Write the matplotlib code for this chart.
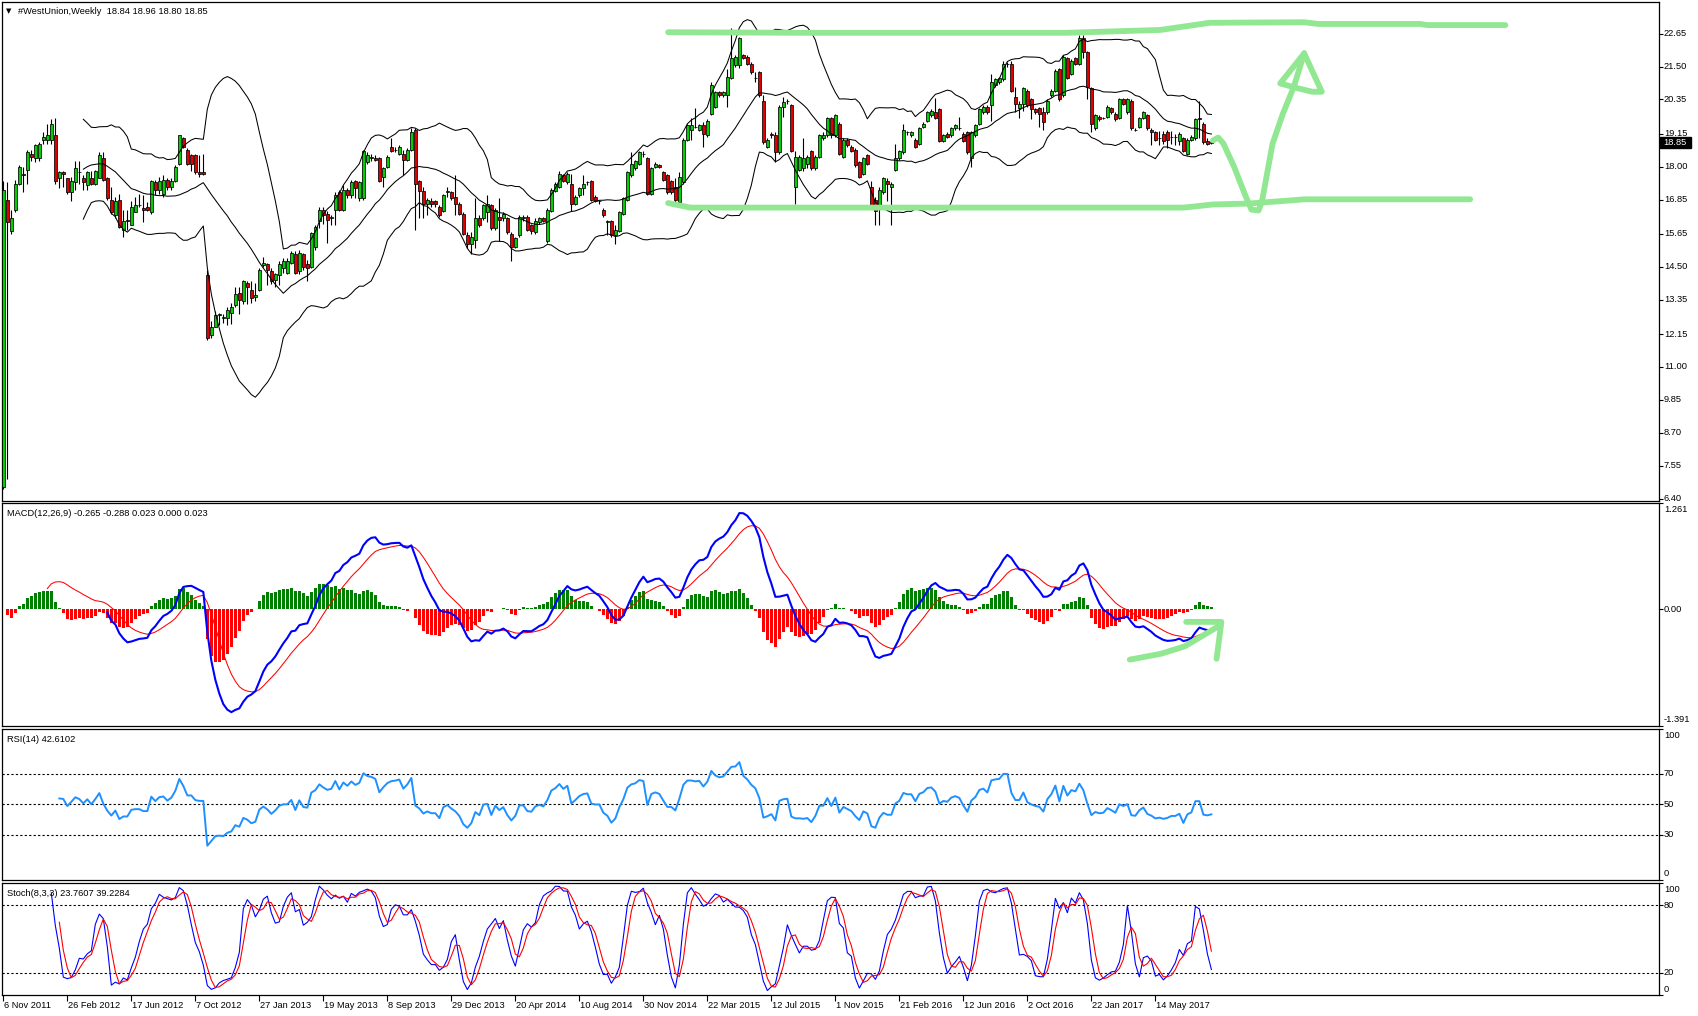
import numpy as np
import matplotlib
matplotlib.use("Agg")
import matplotlib.pyplot as plt

# ---------------- data (weekly OHLC) ----------------
opens = [
 6.80, 16.85, 15.75, 16.50, 17.40, 17.75, 17.90, 18.45, 18.30, 18.30,
 18.95, 18.95, 18.95, 19.10, 17.60, 17.80, 17.60, 17.10, 17.45, 17.80,
 17.60, 17.35, 17.60, 17.40, 17.60, 18.30, 17.60, 16.85, 16.30, 16.85,
 15.80, 16.15, 15.95, 16.40, 16.65, 16.55, 16.60, 16.40, 17.45, 17.20,
 17.05, 17.55, 17.30, 17.50, 18.10, 19.00, 18.60, 18.40, 18.40, 17.80,
 17.80, 14.20, 12.10, 12.40, 12.80, 12.70, 12.70, 12.90, 13.15, 13.60,
 13.30, 13.95, 13.70, 13.45, 13.70, 14.55, 14.60, 14.35, 14.05, 14.20,
 14.45, 14.30, 14.65, 14.95, 14.35, 14.95, 14.60, 14.50, 15.20, 16.10,
 16.50, 16.35, 16.20, 16.50, 17.10, 16.50, 17.20, 17.00, 17.50, 16.90,
 16.90, 18.15, 18.30, 18.30, 18.30, 17.65, 18.00, 18.70, 18.60, 18.45,
 18.45, 18.25, 18.60, 19.30, 17.50, 17.15, 16.70, 16.80, 16.80, 16.60,
 16.45, 17.10, 17.10, 16.95, 16.70, 16.35, 15.60, 15.30, 15.45, 16.20,
 16.20, 16.40, 16.65, 15.85, 16.25, 16.20, 16.20, 15.65, 15.20, 15.60,
 16.20, 16.25, 15.95, 15.70, 16.05, 16.20, 15.40, 16.45, 17.15, 17.30,
 17.70, 17.45, 17.40, 16.70, 17.00, 17.25, 17.45, 17.50, 16.95, 16.80,
 16.50, 16.05, 16.10, 15.60, 15.75, 16.35, 16.85, 17.70, 17.95, 18.10,
 18.45, 18.30, 17.05, 18.00, 18.05, 17.80, 17.70, 17.50, 17.30, 16.75,
 17.45, 18.95, 19.30, 19.40, 19.30, 19.45, 19.10, 19.85, 20.10, 20.60,
 20.50, 20.50, 21.10, 21.55, 21.55, 21.90, 21.85, 21.60, 21.10, 21.30,
 20.30, 18.70, 19.15, 19.10, 18.50, 20.10, 20.30, 20.15, 17.30, 17.90,
 17.95, 18.10, 18.55, 17.95, 18.35, 19.00, 19.10, 19.70, 19.10, 19.50,
 18.35, 18.95, 18.70, 18.60, 18.15, 17.75, 18.40, 17.30, 16.85, 16.65,
 17.10, 17.50, 17.30, 17.90, 18.30, 18.50, 19.20, 19.10, 18.95, 18.80,
 19.40, 19.60, 19.80, 19.90, 20.00, 18.90, 19.15, 19.10, 19.35, 19.35,
 19.15, 19.20, 18.30, 19.10, 19.50, 19.90, 20.10, 20.15, 20.85, 20.95,
 21.05, 21.60, 21.60, 20.45, 20.05, 20.20, 20.65, 20.35, 20.00, 20.05,
 19.90, 19.90, 20.50, 20.65, 21.40, 20.50, 21.80, 21.25, 21.80, 21.60,
 22.50, 22.00, 20.75, 19.35, 19.75, 19.70, 19.75, 20.05, 19.85, 19.70,
 20.35, 19.90, 20.30, 19.30, 19.40, 19.70, 19.80, 19.30, 19.20, 19.00,
 19.15, 19.20, 19.05, 19.05, 18.90, 19.00, 18.45, 18.95, 19.00, 19.70,
 19.50, 18.90, 18.84]
highs = [
 17.50, 17.45, 16.50, 17.55, 18.05, 18.00, 18.60, 18.60, 18.80, 18.85,
 19.20, 19.50, 19.65, 19.70, 17.85, 17.85, 17.60, 17.65, 18.20, 18.20,
 17.70, 17.85, 17.85, 17.90, 18.50, 18.50, 17.65, 17.30, 16.95, 17.05,
 16.50, 16.50, 16.80, 16.95, 17.05, 17.00, 16.75, 17.55, 17.55, 17.65,
 17.70, 17.60, 17.60, 18.05, 19.10, 19.05, 18.65, 18.45, 18.45, 18.40,
 18.45, 14.40, 12.60, 12.95, 12.90, 12.85, 13.10, 13.25, 13.80, 13.80,
 14.05, 14.00, 14.00, 13.95, 14.45, 14.85, 14.65, 14.45, 14.30, 14.70,
 14.80, 14.80, 15.05, 15.05, 15.10, 15.00, 14.75, 15.70, 15.95, 16.60,
 16.60, 16.45, 16.30, 17.10, 17.20, 17.35, 17.25, 17.55, 17.55, 17.50,
 18.60, 18.50, 18.45, 18.40, 18.35, 18.00, 18.40, 19.00, 18.70, 18.75,
 18.60, 18.65, 19.35, 19.35, 17.55, 17.30, 16.90, 16.90, 16.85, 16.65,
 17.05, 17.30, 17.15, 17.70, 16.75, 16.40, 15.70, 15.70, 16.90, 16.30,
 16.70, 17.00, 16.70, 16.55, 16.90, 16.40, 16.25, 15.70, 15.55, 16.30,
 16.30, 16.30, 16.00, 16.20, 16.25, 16.25, 16.55, 17.25, 17.45, 17.85,
 17.75, 17.80, 17.75, 17.00, 17.30, 17.70, 17.50, 17.55, 17.00, 16.85,
 16.55, 16.15, 16.15, 15.95, 16.45, 16.95, 17.85, 18.50, 18.25, 18.55,
 18.55, 18.35, 18.00, 18.15, 18.10, 17.85, 17.75, 17.55, 17.60, 17.80,
 19.00, 19.50, 19.70, 20.05, 19.50, 19.55, 19.65, 20.95, 20.65, 20.65,
 20.65, 21.40, 22.84, 21.90, 22.55, 21.95, 21.90, 21.65, 21.30, 21.35,
 20.50, 19.00, 19.20, 19.20, 20.15, 20.45, 20.35, 20.20, 18.55, 18.40,
 19.00, 18.40, 18.60, 18.40, 19.15, 19.20, 19.75, 19.75, 19.85, 19.55,
 19.00, 19.00, 18.75, 18.65, 18.20, 18.35, 18.45, 17.50, 16.95, 17.30,
 17.65, 17.60, 17.45, 18.80, 18.60, 19.50, 19.25, 19.25, 19.00, 19.40,
 19.55, 19.95, 20.00, 20.40, 20.05, 19.15, 19.20, 19.40, 19.50, 19.75,
 19.20, 19.25, 19.25, 19.50, 20.05, 20.15, 20.15, 21.25, 21.10, 21.15,
 21.70, 21.65, 21.70, 20.80, 20.30, 20.80, 20.70, 20.40, 20.05, 20.10,
 20.10, 20.35, 20.70, 21.40, 21.45, 21.90, 21.85, 21.75, 21.85, 22.60,
 22.60, 22.05, 20.80, 19.85, 19.80, 19.75, 20.15, 20.10, 19.90, 20.40,
 20.40, 20.40, 20.35, 19.35, 19.75, 19.95, 19.85, 19.35, 19.25, 19.25,
 19.25, 19.30, 19.25, 19.15, 19.20, 19.05, 19.00, 19.10, 19.70, 20.30,
 19.55, 19.00, 18.96]
lows = [
 6.75, 7.07, 15.65, 16.40, 17.35, 17.10, 17.40, 18.20, 18.15, 18.20,
 18.80, 18.80, 18.80, 17.40, 17.25, 17.30, 17.05, 16.80, 17.20, 17.40,
 17.20, 17.20, 17.35, 17.35, 17.60, 17.50, 16.85, 16.35, 16.20, 15.85,
 15.55, 15.80, 15.95, 16.40, 16.60, 16.05, 16.45, 16.35, 17.00, 17.05,
 16.95, 17.20, 17.20, 17.45, 18.05, 18.65, 18.05, 17.85, 17.75, 17.65,
 17.70, 11.95, 12.00, 12.40, 12.45, 12.55, 12.45, 12.50, 13.10, 12.85,
 13.20, 13.20, 13.25, 13.30, 13.65, 14.50, 13.85, 13.90, 13.80, 13.85,
 14.30, 14.25, 14.60, 14.25, 14.25, 14.40, 14.00, 14.45, 15.10, 15.85,
 16.00, 15.35, 15.95, 15.95, 16.45, 16.45, 16.90, 16.90, 16.90, 16.80,
 16.85, 18.10, 18.20, 18.20, 17.45, 17.30, 17.95, 18.50, 18.50, 18.40,
 17.70, 18.20, 18.55, 15.78, 16.20, 16.20, 16.30, 16.60, 16.60, 16.25,
 16.40, 16.95, 16.85, 16.30, 16.30, 15.60, 15.15, 14.95, 15.15, 15.90,
 16.15, 16.05, 15.80, 15.80, 15.40, 16.10, 15.65, 14.70, 15.15, 15.55,
 16.10, 15.75, 15.65, 15.65, 16.00, 16.05, 15.35, 16.40, 17.10, 17.25,
 17.45, 17.40, 16.45, 16.65, 16.95, 17.00, 17.35, 16.80, 16.75, 16.70,
 16.25, 15.60, 15.55, 15.30, 15.70, 16.30, 16.80, 17.65, 17.90, 18.05,
 18.35, 17.00, 17.00, 17.95, 17.95, 17.50, 17.05, 17.05, 16.75, 16.60,
 17.40, 18.90, 18.95, 19.35, 19.25, 18.70, 19.05, 19.80, 20.05, 20.45,
 20.45, 20.10, 21.05, 21.50, 21.45, 21.75, 21.55, 21.25, 20.95, 20.45,
 18.80, 18.65, 19.00, 18.15, 18.45, 19.75, 20.20, 18.50, 16.70, 17.85,
 17.85, 17.95, 17.90, 17.90, 18.30, 18.95, 19.05, 19.00, 19.05, 18.40,
 18.30, 18.70, 18.50, 18.00, 17.60, 17.70, 18.05, 16.60, 15.97, 15.97,
 17.05, 16.80, 15.95, 17.85, 18.25, 18.45, 19.10, 19.05, 18.65, 18.75,
 19.35, 19.55, 19.75, 19.65, 18.85, 18.85, 19.00, 19.05, 19.30, 19.30,
 18.85, 18.45, 18.00, 19.05, 19.45, 19.85, 19.85, 19.60, 20.80, 20.90,
 21.00, 21.50, 20.60, 19.90, 19.70, 19.95, 20.10, 19.65, 19.85, 19.40,
 19.30, 19.85, 20.45, 20.60, 20.30, 20.45, 21.05, 21.20, 21.55, 21.55,
 21.80, 20.35, 19.20, 19.30, 19.60, 19.65, 19.70, 19.85, 19.60, 19.65,
 20.15, 19.85, 19.30, 19.25, 19.35, 19.65, 19.30, 18.75, 18.90, 18.75,
 18.80, 18.65, 18.80, 18.75, 18.75, 18.50, 18.40, 18.90, 18.95, 19.00,
 18.80, 18.75, 18.80]
closes = [
 17.20, 16.05, 16.20, 17.40, 18.00, 17.70, 18.50, 18.35, 18.75, 18.80,
 19.05, 19.10, 19.50, 17.50, 17.80, 17.75, 17.10, 17.50, 17.95, 17.80,
 17.45, 17.80, 17.40, 17.85, 18.40, 17.55, 16.90, 16.40, 16.80, 15.90,
 16.10, 16.10, 16.60, 16.65, 16.65, 16.50, 16.50, 17.50, 17.20, 17.50,
 17.55, 17.30, 17.50, 18.00, 19.10, 18.70, 18.10, 18.10, 17.80, 17.75,
 17.75, 12.00, 12.40, 12.80, 12.85, 12.75, 13.00, 13.10, 13.55, 13.35,
 14.00, 13.80, 13.40, 13.50, 14.40, 14.65, 14.40, 14.00, 14.25, 14.60,
 14.70, 14.70, 15.00, 14.30, 15.00, 14.50, 14.45, 15.67, 15.90, 16.50,
 16.30, 16.15, 16.25, 17.00, 16.50, 17.20, 17.00, 17.45, 17.25, 17.45,
 18.55, 18.40, 18.35, 18.25, 17.50, 17.95, 18.35, 18.55, 18.60, 18.70,
 18.25, 18.60, 19.20, 17.40, 17.15, 16.70, 16.85, 16.70, 16.70, 16.30,
 17.00, 17.15, 16.90, 16.70, 16.35, 15.65, 15.30, 15.55, 16.20, 15.95,
 16.65, 16.70, 15.85, 16.50, 16.15, 16.35, 15.70, 15.20, 15.50, 16.25,
 16.25, 15.80, 15.75, 16.10, 16.20, 16.10, 16.50, 17.20, 17.40, 17.75,
 17.50, 17.75, 16.70, 16.95, 17.25, 17.40, 17.45, 16.85, 16.80, 16.80,
 16.30, 16.10, 15.60, 15.80, 16.40, 16.90, 17.80, 18.10, 18.20, 18.50,
 18.45, 17.05, 17.95, 18.10, 18.00, 17.55, 17.10, 17.10, 16.85, 17.65,
 18.95, 19.45, 19.45, 19.40, 19.45, 19.15, 19.60, 20.85, 20.60, 20.50,
 20.60, 21.15, 21.80, 21.85, 22.50, 21.80, 21.60, 21.30, 21.10, 20.50,
 18.85, 18.95, 19.10, 18.50, 20.10, 20.25, 20.30, 18.55, 18.35, 18.35,
 18.30, 18.35, 17.95, 18.35, 19.10, 19.10, 19.70, 19.10, 19.80, 18.45,
 18.95, 18.75, 18.55, 18.05, 17.65, 18.30, 18.10, 16.65, 16.45, 17.20,
 17.60, 17.40, 17.40, 18.30, 18.55, 19.30, 19.20, 19.20, 18.70, 19.35,
 19.50, 19.90, 19.95, 19.70, 18.90, 19.10, 19.05, 19.35, 19.45, 19.35,
 18.90, 18.50, 19.20, 19.45, 20.00, 20.10, 19.90, 20.95, 21.05, 21.10,
 21.60, 21.60, 20.65, 20.20, 20.20, 20.75, 20.15, 20.00, 19.90, 19.85,
 19.55, 20.30, 20.65, 21.35, 20.35, 21.85, 21.10, 21.70, 21.60, 22.50,
 22.00, 20.80, 19.50, 19.80, 19.65, 19.70, 20.10, 19.90, 19.65, 20.35,
 20.20, 20.35, 19.35, 19.30, 19.70, 19.90, 19.35, 19.20, 18.95, 19.00,
 18.90, 18.95, 19.05, 19.05, 19.15, 18.55, 18.95, 19.05, 19.65, 19.65,
 18.85, 18.80, 18.85]

date_labels = ["6 Nov 2011", "26 Feb 2012", "17 Jun 2012", "7 Oct 2012",
               "27 Jan 2013", "19 May 2013", "8 Sep 2013", "29 Dec 2013",
               "20 Apr 2014", "10 Aug 2014", "30 Nov 2014", "22 Mar 2015",
               "12 Jul 2015", "1 Nov 2015", "21 Feb 2016", "12 Jun 2016",
               "2 Oct 2016", "22 Jan 2017", "14 May 2017"]
date_label_step = 16
price_ticks = [22.65, 21.50, 20.35, 19.15, 18.00, 16.85, 15.65, 14.50,
               13.35, 12.15, 11.00, 9.85, 8.70, 7.55, 6.40]
price_tick_text = ["22.65", "21.50", "20.35", "19.15", "18.00", "16.85", "15.65",
                   "14.50", "13.35", "12.15", "11.00", "9.85", "8.70", "7.55", "6.40"]
last_price = 18.85
macd_range = (-1.391, 1.261)

title_main = "#WestUnion,Weekly  18.84 18.96 18.80 18.85"
title_macd = "MACD(12,26,9) -0.265 -0.288 0.023 0.000 0.023"
title_rsi = "RSI(14) 42.6102"
title_stoch = "Stoch(8,3,3) 23.7607 39.2284"

# hand-drawn green annotations (bar index, price / value)
upper_line_x = [166.2, 199.2, 265.9, 289.2, 301.6, 325.2, 328.7, 354.2, 355.9, 375.5]
upper_line_y = [22.70, 22.68, 22.68, 22.78, 23.03, 23.05, 22.99, 22.99, 22.95, 22.95]
lower_line_x = [166.2, 171.7, 286.7, 295.1, 302.4, 311.2, 321.7, 325.2, 366.7]
lower_line_y = [16.73, 16.57, 16.57, 16.57, 16.68, 16.71, 16.82, 16.86, 16.86]
swing_x = [302.4, 303.7, 305.0, 307.7, 310.3, 312.0, 313.8, 314.7, 317.3, 319.9, 322.6, 325.2]
swing_y = [18.92, 19.02, 18.81, 17.99, 17.06, 16.50, 16.47, 16.82, 18.81, 19.86, 20.79, 21.96]
head_x = [325.2, 319.2, 323.4, 327.2, 329.6, 325.2]
head_y = [21.96, 20.91, 20.75, 20.62, 20.62, 21.96]
macd_stroke_x = [281.6, 289.4, 295.4, 301.4, 304.2]
macd_stroke_y = [-0.60, -0.53, -0.44, -0.27, -0.19]
macd_hook_x = [295.7, 304.5, 303.3]
macd_hook_y = [-0.15, -0.15, -0.59]

# ---------------- indicator computation ----------------
o = np.array(opens); h = np.array(highs); l = np.array(lows); c = np.array(closes)
n = len(c)
assert len(o) == n and len(h) == n and len(l) == n
idx = np.arange(n)


def ema(x, period):
    a = 2.0 / (period + 1)
    out = np.empty_like(x)
    out[0] = x[0]
    for i in range(1, len(x)):
        out[i] = a * x[i] + (1 - a) * out[i - 1]
    return out


macd = ema(c, 12) - ema(c, 26)
signal = ema(macd, 9)
hist = macd - signal

bb_mid = np.full(n, np.nan); bb_up = np.full(n, np.nan); bb_lo = np.full(n, np.nan)
for i in range(19, n):
    w = c[i - 19:i + 1]
    bb_mid[i] = w.mean(); sd = w.std()
    bb_up[i] = bb_mid[i] + 2 * sd; bb_lo[i] = bb_mid[i] - 2 * sd

d = np.diff(c, prepend=c[0])
gain = np.clip(d, 0, None); loss = np.clip(-d, 0, None)
rsi = np.full(n, np.nan)
ag = gain[1:15].mean(); al = loss[1:15].mean()
rsi[14] = 100 - 100 / (1 + ag / al)
for i in range(15, n):
    ag = (ag * 13 + gain[i]) / 14
    al = (al * 13 + loss[i]) / 14
    rsi[i] = 100 - 100 / (1 + ag / al)

num = np.full(n, np.nan); den = np.full(n, np.nan)
for i in range(7, n):
    ll = l[i - 7:i + 1].min(); hh = h[i - 7:i + 1].max()
    num[i] = c[i] - ll; den[i] = hh - ll
stk = np.full(n, np.nan); std_ = np.full(n, np.nan)
for i in range(9, n):
    stk[i] = 100 * num[i - 2:i + 1].sum() / den[i - 2:i + 1].sum()
for i in range(11, n):
    std_[i] = stk[i - 2:i + 1].mean()

# ---------------- figure ----------------
W, H = 1699, 1016
plt.rcParams['font.family'] = ['Liberation Sans', 'DejaVu Sans']
FS = 6.7
fig = plt.figure(figsize=(W / 100, H / 100), dpi=100)
fig.patch.set_facecolor('white')

PL, PR = 2, 1659


def pane(top, bottom):
    ax = fig.add_axes([PL / W, 1 - bottom / H, (PR - PL) / W, (bottom - top) / H])
    for s in ax.spines.values():
        s.set_color('black'); s.set_linewidth(0.9)
    ax.set_xlim(-0.33, 413.9)
    ax.set_xticks([])
    ax.yaxis.tick_right()
    ax.tick_params(axis='y', direction='out', length=3, width=0.8, labelright=False,
                   right=True, left=False, colors='black')
    return ax


def ftext(x, y, s, **kw):
    kw.setdefault('fontsize', FS)
    kw.setdefault('color', 'black')
    fig.text(x / W, 1 - y / H, s, **kw)


ax0 = pane(2, 501)
ax1 = pane(503.5, 726)
ax2 = pane(728.5, 880)
ax3 = pane(883, 995)

# ---- main price pane ----
ax0.set_ylim(6.314, 23.757)
ax0.vlines(idx, l, h, color='black', lw=0.8, zorder=2)
body_lo = np.minimum(o, c); body_h = np.abs(c - o)
cols = np.where(c >= o, '#00d000', '#e00000')
ax0.bar(idx, body_h, bottom=body_lo, width=0.7, color=cols, edgecolor='black',
        linewidth=0.55, zorder=3)
bs = slice(20, n)
for band in (bb_up, bb_mid, bb_lo):
    ax0.plot(idx[bs], band[bs], color='black', lw=0.75, zorder=4)
gcol = '#92e892'
ax0.plot(upper_line_x, upper_line_y, color=gcol, lw=4.2, solid_capstyle='round', zorder=5)
ax0.plot(lower_line_x, lower_line_y, color=gcol, lw=4.2, solid_capstyle='round', zorder=5)
ax0.plot(swing_x, swing_y, color=gcol, lw=4.2, solid_capstyle='round',
         solid_joinstyle='round', zorder=5)
ax0.plot(head_x, head_y, color=gcol, lw=4.2, solid_capstyle='round',
         solid_joinstyle='round', zorder=5)
ax0.set_yticks(price_ticks)

# ---- MACD pane ----
ax1.set_ylim(*macd_range)
hs = slice(1, n)
hcol = np.where(hist >= 0, '#008000', '#ff0000')
ax1.bar(idx[hs], hist[hs], width=0.7, color=hcol[hs], linewidth=0, zorder=2)
ax1.plot(idx[26:], macd[26:], color='#0000ff', lw=1.5, zorder=4)
ax1.plot(idx[11:], signal[11:], color='#ff0000', lw=0.75, zorder=3)
ax1.plot(macd_stroke_x, macd_stroke_y, color=gcol, lw=4.2, solid_capstyle='round', zorder=5)
ax1.plot(macd_hook_x, macd_hook_y, color=gcol, lw=4.2, solid_capstyle='round',
         solid_joinstyle='round', zorder=5)
ax1.set_yticks([macd_range[1], 0.0, macd_range[0]])

# ---- RSI pane ----
ax2.set_ylim(0, 100)
for lv in (30, 50, 70):
    ax2.axhline(lv, color='black', lw=0.8, linestyle=(0, (2, 2)), zorder=1)
ax2.plot(idx[14:], rsi[14:], color='#1e90ff', lw=1.4, zorder=3)
ax2.set_yticks([100, 70, 50, 30, 0])

# ---- Stochastic pane ----
ax3.set_ylim(0, 100)
for lv in (20, 80):
    ax3.axhline(lv, color='black', lw=0.8, linestyle=(0, (2, 2)), zorder=1)
ax3.plot(idx[12:], stk[12:], color='#0000ff', lw=0.8, zorder=3)
ax3.plot(idx[14:], std_[14:], color='#ff0000', lw=0.8, zorder=4)
ax3.set_yticks([100, 80, 20, 0])
ax3.set_xticks(np.arange(len(date_labels)) * date_label_step)
ax3.tick_params(axis='x', direction='out', length=4, width=0.8, labelbottom=False,
                bottom=True, colors='black')

# ---------------- texts ----------------
def py_main(p):
    return 2 + (23.757 - p) / (23.757 - 6.314) * (501 - 2)


for p, s in zip(price_ticks, price_tick_text):
    ftext(1664, py_main(p), s, va='center', ha='left')
# last price box
yb = py_main(last_price)
fig.patches.append(matplotlib.patches.Rectangle((1660 / W, 1 - (yb + 5.5) / H), 31 / W, 11 / H,
                                                transform=fig.transFigure, facecolor='black',
                                                edgecolor='black', zorder=10))
ftext(1663, yb, "18.85", va='center', ha='left', color='white', zorder=11)

# MACD labels
ftext(1664, 510, "1.261", va='center', ha='left')
ftext(1664, 503.5 + (macd_range[1] - 0) / (macd_range[1] - macd_range[0]) * 222.5,
      "0.00", va='center', ha='left')
ftext(1664, 719, "-1.391", va='center', ha='left')
# RSI labels
for v, s in ((100, "100"), (70, "70"), (50, "50"), (30, "30"), (0, "0")):
    y = 728.5 + (100 - v) / 100 * (880 - 728.5)
    if v == 100:
        y += 7
    if v == 0:
        y -= 7
    ftext(1664, y, s, va='center', ha='left')
# Stoch labels
for v, s in ((100, "100"), (80, "80"), (20, "20"), (0, "0")):
    y = 883 + (100 - v) / 100 * (995 - 883)
    if v == 100:
        y += 6
    if v == 0:
        y -= 6
    ftext(1664, y, s, va='center', ha='left')

# dates
for k, s in enumerate(date_labels):
    x = 3.3 + 4 * (k * date_label_step)
    ftext(x + 1, 1005, s, va='center', ha='left')

# titles
ftext(6, 11, "\u25bc", va='center', ha='left', fontsize=5, family='DejaVu Sans')
ftext(18, 11, title_main, va='center', ha='left')
ftext(7, 514, title_macd, va='center', ha='left')
ftext(7, 739, title_rsi, va='center', ha='left')
ftext(7, 893, title_stoch, va='center', ha='left')

fig.savefig("out.png", dpi=100, facecolor='white')
